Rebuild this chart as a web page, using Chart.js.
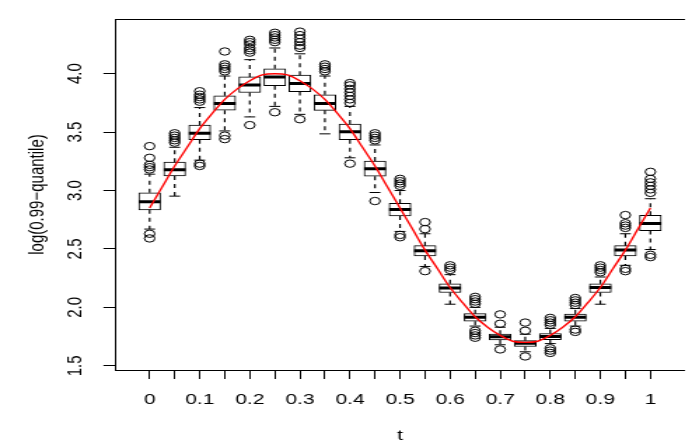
<!DOCTYPE html>
<html>
<head>
<meta charset="utf-8">
<title>log(0.99-quantile) by t</title>
<script src="https://cdn.jsdelivr.net/npm/chart.js@4.4.1/dist/chart.umd.min.js"></script>
<style>
  html, body { margin: 0; padding: 0; background: #fff; }
  #chart { display: block; }
</style>
</head>
<body>
<canvas id="chart" style="width:699px;height:442px"></canvas>
<script>
// boxes, one per t
const tVals = [0, 0.05, 0.1, 0.15, 0.2, 0.25, 0.3, 0.35, 0.4, 0.45, 0.5,
               0.55, 0.6, 0.65, 0.7, 0.75, 0.8, 0.85, 0.9, 0.95, 1];
const tLabels = ['0', '0.05', '0.1', '0.15', '0.2', '0.25', '0.3', '0.35', '0.4', '0.45', '0.5',
                 '0.55', '0.6', '0.65', '0.7', '0.75', '0.8', '0.85', '0.9', '0.95', '1'];
const yTicks = [1.5, 2.0, 2.5, 3.0, 3.5, 4.0];

const medians = [2.905, 3.178, 3.49, 3.744, 3.903, 3.972, 3.916, 3.744, 3.504, 3.186, 2.838,
                 2.484, 2.166, 1.916, 1.748, 1.692, 1.751, 1.916, 2.169, 2.49, 2.718];
const q1 = [2.835, 3.125, 3.435, 3.688, 3.839, 3.897, 3.847, 3.686, 3.435, 3.122, 2.783,
            2.44, 2.127, 1.882, 1.721, 1.665, 1.723, 1.882, 2.127, 2.44, 2.657];
const q3 = [2.98, 3.243, 3.56, 3.811, 3.972, 4.042, 3.987, 3.819, 3.569, 3.253, 2.891,
            2.528, 2.202, 1.946, 1.771, 1.715, 1.776, 1.943, 2.202, 2.528, 2.788];
const whiskLo = [2.67, 2.952, 3.26, 3.51, 3.63, 3.72, 3.652, 3.485, 3.28, 2.983, 2.65,
                 2.35, 2.027, 1.84, 1.68, 1.62, 1.69, 1.84, 2.027, 2.36, 2.495];
const whiskHi = [3.14, 3.37, 3.71, 3.98, 4.12, 4.22, 4.17, 3.98, 3.72, 3.39, 3.0,
                 2.63, 2.28, 2.0, 1.83, 1.77, 1.82, 1.99, 2.26, 2.63, 2.93];
const outliers = [
    [2.59, 2.63, 3.18, 3.20, 3.22, 3.28, 3.38],
    [3.41, 3.43, 3.45, 3.47, 3.49],
    [3.21, 3.23, 3.76, 3.78, 3.80, 3.82, 3.85],
    [3.44, 3.47, 4.02, 4.04, 4.06, 4.08, 4.19],
    [3.56, 4.18, 4.20, 4.22, 4.25, 4.27, 4.29],
    [3.67, 4.27, 4.29, 4.31, 4.33, 4.35],
    [3.61, 4.22, 4.24, 4.27, 4.30, 4.33, 4.36],
    [4.02, 4.04, 4.06, 4.08],
    [3.23, 3.75, 3.78, 3.81, 3.84, 3.87, 3.90, 3.92],
    [2.91, 3.43, 3.45, 3.47, 3.49],
    [2.60, 2.62, 3.04, 3.06, 3.08, 3.10],
    [2.31, 2.67, 2.73],
    [2.32, 2.34, 2.36],
    [1.74, 1.76, 1.78, 1.80, 2.03, 2.05, 2.07, 2.09],
    [1.64, 1.86, 1.94],
    [1.58, 1.80, 1.87],
    [1.61, 1.63, 1.65, 1.85, 1.87, 1.89, 1.91],
    [1.79, 1.81, 2.02, 2.04, 2.06, 2.08],
    [2.30, 2.32, 2.34, 2.36],
    [2.31, 2.33, 2.68, 2.70, 2.72, 2.79],
    [2.43, 2.45, 2.98, 3.01, 3.04, 3.07, 3.10, 3.16]
];

// red curve
const curveT = [0, 0.025, 0.05, 0.075, 0.1, 0.125, 0.15, 0.175, 0.2, 0.225, 0.25,
                0.275, 0.3, 0.325, 0.35, 0.375, 0.4, 0.425, 0.45, 0.475, 0.5,
                0.525, 0.55, 0.575, 0.6, 0.625, 0.65, 0.675, 0.7, 0.725, 0.75,
                0.775, 0.8, 0.825, 0.85, 0.875, 0.9, 0.925, 0.95, 0.975, 1];
const curveY = [2.85, 3.03, 3.21, 3.37, 3.53, 3.66, 3.78, 3.87, 3.94, 3.99, 4.00,
                3.99, 3.94, 3.87, 3.78, 3.66, 3.53, 3.37, 3.21, 3.03, 2.85,
                2.67, 2.49, 2.33, 2.17, 2.04, 1.92, 1.83, 1.76, 1.71, 1.70,
                1.71, 1.76, 1.83, 1.92, 2.04, 2.17, 2.33, 2.49, 2.67, 2.85];

// the original picture is stretched sideways (its circles are ellipses),
// so draw narrower and let the inline css widen the canvas
const STRETCH = 1.4;
const W = Math.round(699 / STRETCH);

const canvas = document.getElementById('chart');
canvas.width = W;
canvas.height = 442;

Chart.defaults.font.family = "'Liberation Sans', Arial, sans-serif";
Chart.defaults.font.size = 15;
Chart.defaults.color = '#000';

document.addEventListener('DOMContentLoaded', function() {
    const whiskerPts = [];
    tVals.forEach((t, i) => {
        whiskerPts.push({x: t, y: q3[i]}, {x: t, y: whiskHi[i]}, {x: t, y: null});
        whiskerPts.push({x: t, y: q1[i]}, {x: t, y: whiskLo[i]}, {x: t, y: null});
    });

    const caps = [];
    tVals.forEach((t, i) => {
        caps.push({x: t, y: whiskHi[i]}, {x: t, y: whiskLo[i]});
    });

    const outPts = [];
    outliers.forEach((list, i) => {
        list.forEach(v => outPts.push({x: tVals[i], y: v}));
    });

    new Chart(canvas, {
        type: 'bar',
        data: {
            datasets: [{
                type: 'line',
                label: 'fit',
                data: curveT.map((t, i) => ({x: t, y: curveY[i]})),
                borderColor: '#ff0000',
                borderWidth: 1.4,
                pointRadius: 0,
                cubicInterpolationMode: 'monotone',
                order: 0
            }, {
                type: 'scatter',
                label: 'median',
                data: tVals.map((t, i) => ({x: t, y: medians[i]})),
                pointStyle: 'line',
                pointRadius: 7.75,
                pointBorderWidth: 3,
                pointBorderColor: '#000',
                order: 1
            }, {
                type: 'scatter',
                label: 'caps',
                data: caps,
                pointStyle: 'line',
                pointRadius: 3.9,
                pointBorderWidth: 1,
                pointBorderColor: '#000',
                order: 2
            }, {
                type: 'scatter',
                label: 'outliers',
                data: outPts,
                pointStyle: 'circle',
                pointRadius: 3.7,
                pointBorderWidth: 1,
                pointBorderColor: '#000',
                pointBackgroundColor: 'rgba(0,0,0,0)',
                order: 2
            }, {
                type: 'line',
                label: 'whiskers',
                data: whiskerPts,
                borderColor: '#000',
                borderWidth: 1.2,
                borderDash: [4, 4],
                pointRadius: 0,
                spanGaps: false,
                order: 3
            }, {
                type: 'bar',
                label: 'boxes',
                data: tVals.map((t, i) => ({x: t, y: [q1[i], q3[i]]})),
                backgroundColor: '#fff',
                borderColor: '#000',
                borderWidth: 1,
                borderSkipped: false,
                barThickness: 15.5,
                grouped: false,
                order: 4
            }]
        },
        options: {
            responsive: false,
            animation: false,
            devicePixelRatio: 1,
            layout: {
                padding: {left: 0, top: 11, right: W - 708.3 / STRETCH, bottom: 0}
            },
            plugins: {
                legend: {display: false},
                tooltip: {enabled: false}
            },
            scales: {
                x: {
                    type: 'linear',
                    position: 'bottom',
                    min: -0.067,
                    max: 1.067,
                    offset: false,
                    afterBuildTicks: s => { s.ticks = tVals.map(v => ({value: v})); },
                    afterFit: s => { s.height = 72; },
                    grid: {drawOnChartArea: false, offset: false, color: '#000', tickLength: 9},
                    border: {color: '#000', width: 1},
                    ticks: {
                        autoSkip: false,
                        minRotation: 0,
                        maxRotation: 0,
                        padding: 12,
                        callback: (v, i) => i % 2 === 0 ? tLabels[i] : ''
                    },
                    title: {
                        display: true,
                        text: 't',
                        font: {size: 15, lineHeight: 1},
                        padding: {top: 0, bottom: -1.5}
                    }
                },
                x2: {
                    type: 'linear',
                    position: 'top',
                    min: -0.067,
                    max: 1.067,
                    afterFit: s => { s.height = 0; },
                    grid: {display: false},
                    ticks: {display: false},
                    border: {display: true, color: '#000', width: 1}
                },
                y: {
                    type: 'linear',
                    position: 'left',
                    min: 1.464,
                    max: 4.468,
                    afterBuildTicks: s => { s.ticks = yTicks.map(v => ({value: v})); },
                    afterFit: s => { s.width = 116 / STRETCH; },
                    grid: {drawOnChartArea: false, color: '#000', tickLength: 9},
                    border: {color: '#000', width: 1},
                    ticks: {
                        minRotation: 90,
                        maxRotation: 90,
                        crossAlign: 'center',
                        padding: 10,
                        callback: v => v.toFixed(1)
                    },
                    title: {
                        display: true,
                        text: 'log(0.99\u2212quantile)',
                        font: {size: 15, lineHeight: 1},
                        padding: {top: 19.5, bottom: 0}
                    }
                }
            }
        }
    });
});
</script>
</body>
</html>
